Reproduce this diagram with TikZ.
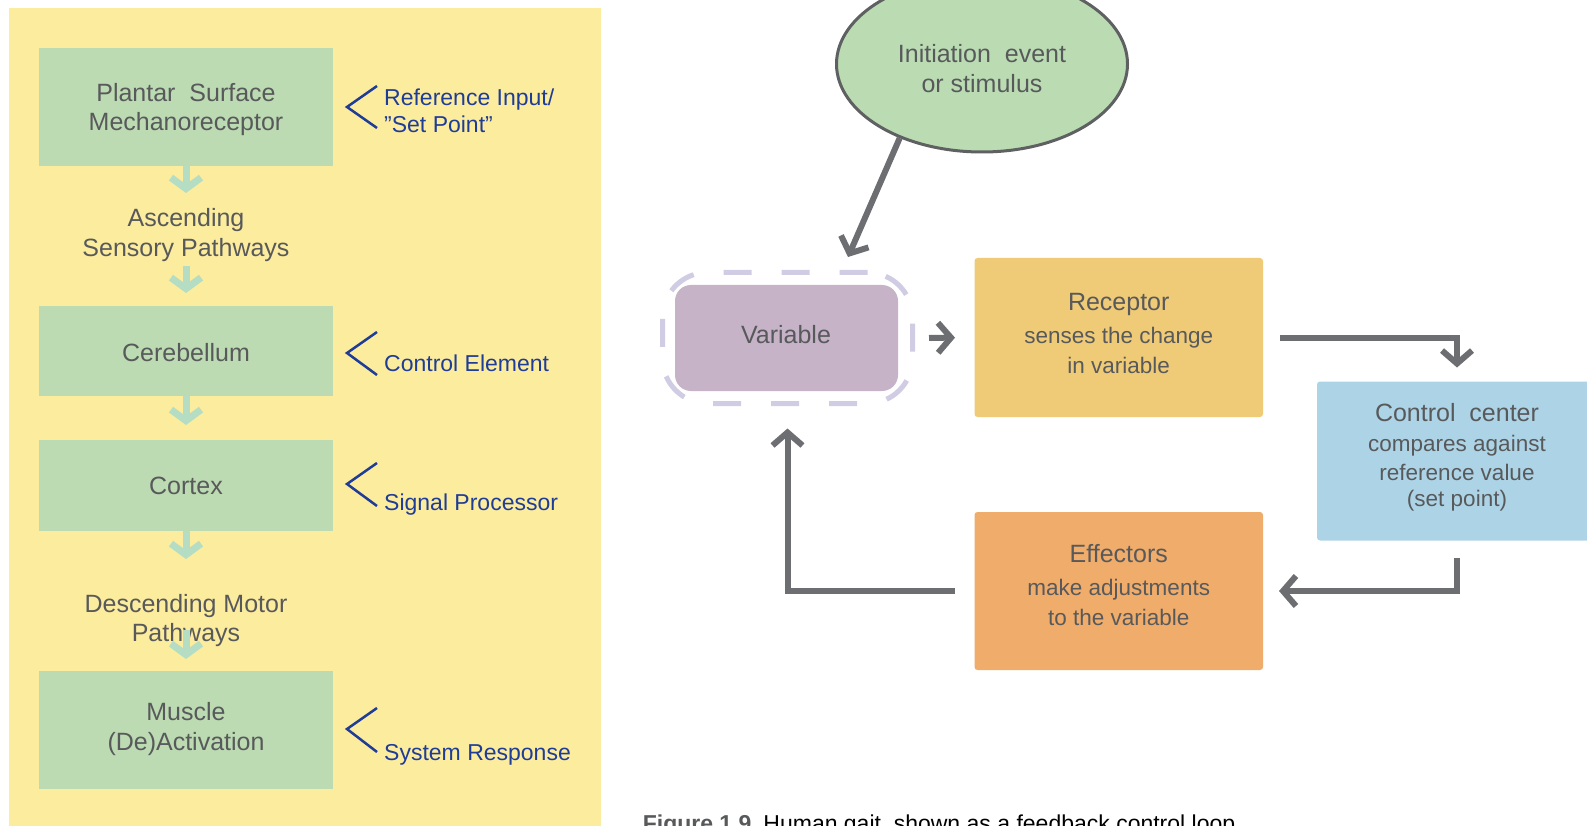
\documentclass[tikz,border=0pt]{standalone}
\usepackage{fontspec}
\setmainfont{Liberation Sans}
\usetikzlibrary{arrows.meta,shapes.geometric}
\definecolor{panelyellow}{HTML}{FCEC9E}
\definecolor{boxgreen}{HTML}{BCDBB2}
\definecolor{arrowgreen}{HTML}{B5DDC4}
\definecolor{navy}{HTML}{1F3C96}
\definecolor{textgray}{HTML}{58595B}
\definecolor{ellgreen}{HTML}{BBDCB3}
\definecolor{ellgray}{HTML}{5F6062}
\definecolor{varfill}{HTML}{C6B3C8}
\definecolor{dashlav}{HTML}{CFCCE3}
\definecolor{recyellow}{HTML}{EFCB78}
\definecolor{ctrlblue}{HTML}{ADD4E6}
\definecolor{efforange}{HTML}{F0AC6A}
\definecolor{arrowgray}{HTML}{6D6E71}
\newcommand{\fzLeft}{\fontsize{25}{29.5}\selectfont}
\newcommand{\fzTitle}{\fontsize{25}{30}\selectfont}
\newcommand{\fzSub}{\fontsize{22.5}{29.5}\selectfont}
\newcommand{\fzLabel}{\fontsize{23}{27.5}\selectfont}
\newcommand{\fzCap}{\fontsize{23}{27}\selectfont}
\begin{document}
\begin{tikzpicture}[x=1pt,y=-1pt,
  lbox/.style={fill=boxgreen, minimum width=293.5pt, inner sep=0pt, outer sep=0pt,
    text=textgray, align=center, font=\fzLeft},
  ltext/.style={inner sep=0pt, text=textgray, align=center, font=\fzLeft},
  larrow/.style={draw=arrowgreen, line width=7pt, -{Straight Barb[length=11pt,width=30pt]}},
  chev/.style={draw=navy, line width=2.5pt},
  lab/.style={anchor=west, inner sep=0pt, text=navy, align=left, font=\fzLabel},
  rbox/.style={rounded corners=3pt, inner sep=0pt, outer sep=0pt},
  rtext/.style={inner sep=0pt, text=textgray, align=center, font=\fzSub},
  garrow/.style={draw=arrowgray, line width=6pt, -{Straight Barb[length=13pt,width=30pt]}}
]
\useasboundingbox (0,0) rectangle (1587,826);
\clip (0,0) rectangle (1587,826);

% ---------- left panel ----------
\fill[panelyellow] (9,8) rectangle (601,830);

\node[lbox, minimum height=118pt] (b1) at (186,107) {};
\node[ltext] (b1t) at (186,109.5) {Plantar~ Surface\\Mechanoreceptor};
\node[ltext] (t1) at (186,235) {Ascending\\Sensory Pathways};
\node[lbox, minimum height=90pt] (b2) at (186,351) {};
\node[ltext] (b2t) at (186,353) {Cerebellum};
\node[lbox, minimum height=91pt] (b3) at (186,485.5) {Cortex};
\node[ltext] (t2) at (186,620.5) {Descending Motor\\Pathways};
\node[lbox, minimum height=118pt] (b4) at (186,730) {};
\node[ltext] (b4t) at (186,729) {Muscle\\(De)Activation};

\coordinate (a1e) at (186,193);
\coordinate (a2s) at (186,266);
\coordinate (a2e) at (186,293);
\coordinate (a3e) at (186,425);
\coordinate (a4e) at (186,559);
\coordinate (a5s) at (186,630);
\draw[larrow] (b1.south) -- (a1e);
\draw[larrow] (a2s) -- (a2e);
\draw[larrow] (b2.south) -- (a3e);
\draw[larrow] (b3.south) -- (a4e);
\draw[larrow, shorten >=12pt] (a5s) -- (b4.north);

\draw[chev] (377,86) -- (347,107) -- (377,128);
\draw[chev] (377,332) -- (347,353) -- (377,375);
\draw[chev] (377,463) -- (347,484) -- (377,506);
\draw[chev] (377,708) -- (347,729) -- (377,752);

\node[lab] (l1) at (384,111) {Reference Input/\\”Set Point”};
\node[lab] (l2) at (384,363) {Control Element};
\node[lab] (l3) at (384,505) {Signal Processor};
\node[lab] (l4) at (384,755) {System Response};

% ---------- right: feedback loop ----------
\node[ellipse, draw=ellgray, line width=3pt, fill=ellgreen, minimum width=291pt,
  minimum height=176pt, inner sep=0pt] (init) at (982,64) {};
\node[rtext, font=\fzTitle] (initt) at (982,68.5) {Initiation~ event\\or stimulus};

\node[draw=dashlav, dash pattern=on 28pt off 30pt, line width=5pt, rounded corners=45pt,
  minimum width=250pt, minimum height=131pt, inner sep=0pt, outer sep=0pt]
  (varout) at (787.5,338) {};
\node[fill=varfill, rounded corners=16pt, minimum width=223pt, minimum height=106pt,
  inner sep=0pt] (var) at (786.5,338) {};
\node[rtext, font=\fzTitle] (vart) at (786,335) {Variable};

\node[rbox, fill=recyellow, minimum width=288.5pt, minimum height=159pt]
  (rec) at (1118.75,337.5) {};
\node[rtext] (rect) at (1118.75,333.5) {{\fzTitle Receptor}\\[4pt]senses the change\\in variable};
\node[rbox, fill=ctrlblue, minimum width=280pt, minimum height=159pt]
  (ctrl) at (1457,461) {};
\node[rtext] (ctrlt) at (1457,457.5) {{\fzTitle Control~ center}\\[0.5pt]compares against\\reference value\\[-3.5pt](set point)};
\node[rbox, fill=efforange, minimum width=288.5pt, minimum height=158pt]
  (eff) at (1118.75,591) {};
\node[rtext] (efft) at (1118.75,585) {{\fzTitle Effectors}\\[4pt]make adjustments\\to the variable};

\coordinate (vtip) at (848,257);
\draw[garrow] (init.222) -- (vtip);
\draw[garrow, shorten <=16.5pt, shorten >=19.5pt] (varout.east) -- (rec.west);
\draw[garrow, shorten <=17pt, shorten >=14pt] (rec.east) -| (ctrl.north);
\draw[garrow, shorten <=17pt, shorten >=16pt] (ctrl.south) |- (eff.east);
\draw[garrow, shorten <=20pt, shorten >=25pt] (eff.west) -| (varout.south);

\node[anchor=base west, inner sep=0pt, font=\fzCap] (cap) at (642.6,831)
  {\textcolor{textgray}{\bfseries Figure 1.9}\hspace{12pt}Human gait, shown as a feedback control loop};
\end{tikzpicture}
\end{document}
